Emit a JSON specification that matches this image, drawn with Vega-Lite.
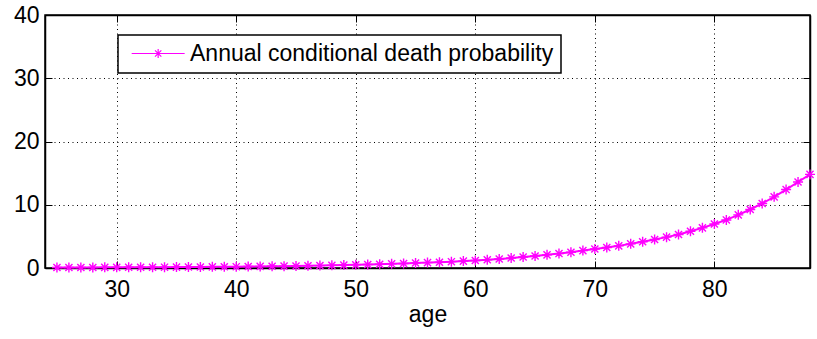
{
  "$schema": "https://vega.github.io/schema/vega-lite/v6.json",
  "width": 765,
  "height": 253,
  "autosize": {"type": "none"},
  "padding": {"left": 45, "top": 15, "right": 7, "bottom": 71},
  "background": "white",
  "config": {
    "font": "Liberation Sans",
    "view": {"stroke": "black", "strokeWidth": 1.5},
    "axis": {
      "labelFont": "Liberation Sans",
      "labelFontSize": 23,
      "labelColor": "black",
      "titleFont": "Liberation Sans",
      "titleFontSize": 23,
      "titleFontWeight": "normal",
      "titleColor": "black",
      "domainColor": "black",
      "domainWidth": 1.5,
      "tickColor": "black",
      "tickWidth": 1,
      "gridColor": "black",
      "gridOpacity": 1,
      "gridDash": [1, 3.5],
      "gridWidth": 1
    },
    "legend": {
      "strokeColor": "black",
      "strokeWidth": 1.5,
      "fillColor": "white",
      "padding": 7,
      "labelFont": "Liberation Sans",
      "labelFontSize": 23,
      "labelColor": "black",
      "labelLimit": 1000,
      "labelOffset": 38,
      "symbolOffset": 4,
      "symbolStrokeWidth": 1.2,
      "symbolType": "M-1,0L5,0M2,-0.51L2,0.51M1.64,-0.36L2.36,0.36M1.64,0.36L2.36,-0.36",
      "symbolSize": 312
    }
  },
  "data": {
    "values": [
      {"age": 25, "p": 0.08}, {"age": 26, "p": 0.08}, {"age": 27, "p": 0.09}, {"age": 28, "p": 0.09},
      {"age": 29, "p": 0.10}, {"age": 30, "p": 0.10}, {"age": 31, "p": 0.11}, {"age": 32, "p": 0.12},
      {"age": 33, "p": 0.12}, {"age": 34, "p": 0.13}, {"age": 35, "p": 0.14}, {"age": 36, "p": 0.15},
      {"age": 37, "p": 0.16}, {"age": 38, "p": 0.18}, {"age": 39, "p": 0.19}, {"age": 40, "p": 0.21},
      {"age": 41, "p": 0.23}, {"age": 42, "p": 0.25}, {"age": 43, "p": 0.27}, {"age": 44, "p": 0.29},
      {"age": 45, "p": 0.32}, {"age": 46, "p": 0.35}, {"age": 47, "p": 0.38}, {"age": 48, "p": 0.42},
      {"age": 49, "p": 0.46}, {"age": 50, "p": 0.50}, {"age": 51, "p": 0.55}, {"age": 52, "p": 0.60},
      {"age": 53, "p": 0.66}, {"age": 54, "p": 0.72}, {"age": 55, "p": 0.78}, {"age": 56, "p": 0.85},
      {"age": 57, "p": 0.92}, {"age": 58, "p": 1.00}, {"age": 59, "p": 1.09}, {"age": 60, "p": 1.19},
      {"age": 61, "p": 1.30}, {"age": 62, "p": 1.43}, {"age": 63, "p": 1.57}, {"age": 64, "p": 1.73},
      {"age": 65, "p": 1.90}, {"age": 66, "p": 2.08}, {"age": 67, "p": 2.28}, {"age": 68, "p": 2.50},
      {"age": 69, "p": 2.75}, {"age": 70, "p": 3.00}, {"age": 71, "p": 3.25}, {"age": 72, "p": 3.50},
      {"age": 73, "p": 3.82}, {"age": 74, "p": 4.15}, {"age": 75, "p": 4.50}, {"age": 76, "p": 4.88},
      {"age": 77, "p": 5.30}, {"age": 78, "p": 5.80}, {"age": 79, "p": 6.35}, {"age": 80, "p": 6.95},
      {"age": 81, "p": 7.60}, {"age": 82, "p": 8.40}, {"age": 83, "p": 9.25}, {"age": 84, "p": 10.20},
      {"age": 85, "p": 11.25}, {"age": 86, "p": 12.40}, {"age": 87, "p": 13.60}, {"age": 88, "p": 14.80}
    ]
  },
  "transform": [{"calculate": "'Annual conditional death probability'", "as": "series"}],
  "layer": [
    {
      "mark": {"type": "line", "color": "#ff00ff", "strokeWidth": 2},
      "encoding": {
        "x": {
          "field": "age", "type": "quantitative",
          "scale": {"domain": [24, 88], "nice": false, "zero": false},
          "axis": {"orient": "bottom", "title": "age", "values": [30, 40, 50, 60, 70, 80], "tickSize": -7, "labelPadding": 17, "grid": true, "titlePadding": 2, "labelFlush": false}
        },
        "y": {
          "field": "p", "type": "quantitative",
          "scale": {"domain": [0, 40], "nice": false},
          "axis": {"orient": "left", "title": null, "values": [0, 10, 20, 30, 40], "tickSize": -7, "labelPadding": 13, "grid": true, "labelFlush": false}
        }
      }
    },
    {
      "mark": {"type": "point", "shape": "M-1,0L1,0M0,-1L0,1M-0.71,-0.71L0.71,0.71M-0.71,0.71L0.71,-0.71", "size": 100, "filled": false, "strokeWidth": 1.4, "opacity": 1},
      "encoding": {
        "x": {
          "field": "age", "type": "quantitative",
          "axis": {"orient": "top", "title": null, "labels": false, "values": [30, 40, 50, 60, 70, 80], "tickSize": -7, "grid": false}
        },
        "y": {
          "field": "p", "type": "quantitative",
          "axis": {"orient": "right", "title": null, "labels": false, "values": [0, 10, 20, 30, 40], "tickSize": -7, "grid": false}
        },
        "color": {
          "field": "series", "type": "nominal",
          "scale": {"range": ["#ff00ff"]},
          "legend": {"title": null, "orient": "none", "legendX": 73, "legendY": 20, "labelExpr": "datum.label + '\u00a0\u00a0'"}
        }
      }
    }
  ],
  "resolve": {"axis": {"x": "independent", "y": "independent"}}
}
